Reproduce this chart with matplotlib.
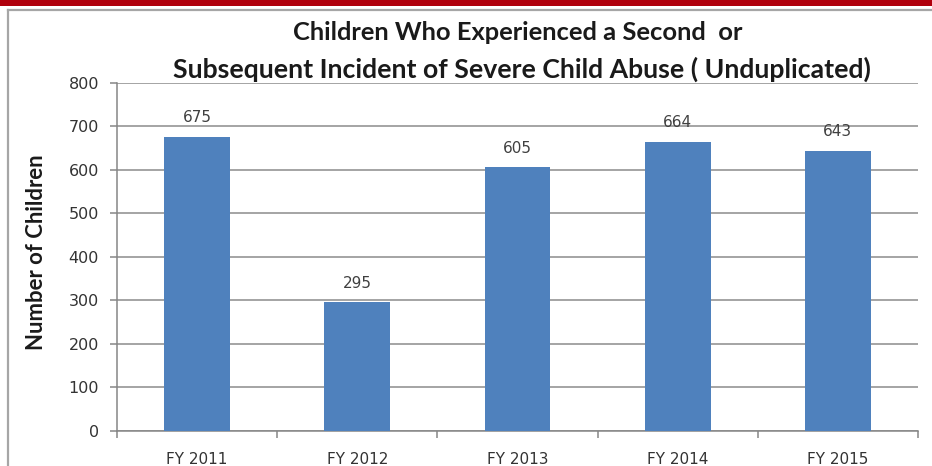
import numpy as np
import matplotlib
matplotlib.use("Agg")
import matplotlib.pyplot as plt
from matplotlib.patches import Rectangle
from matplotlib.lines import Line2D

# data
years = ['FY 2011', 'FY 2012', 'FY 2013', 'FY 2014', 'FY 2015']
children = [675, 295, 605, 664, 643]
yticks = [0, 100, 200, 300, 400, 500, 600, 700, 800]

W, H = 932, 466
fig = plt.figure(figsize=(W / 100, H / 100), dpi=100)
fig.patch.set_facecolor('white')
renderer = fig.canvas.get_renderer()


def fit_width(txt, target_px, horizontal=True):
    # shrink/grow a text so it spans about target_px pixels
    bb = txt.get_window_extent(renderer=renderer)
    cur = bb.width if horizontal else bb.height
    txt.set_fontsize(txt.get_fontsize() * target_px / cur)


# red strip at the very top + gray frame of the chart box
fig.patches.append(Rectangle((0, 1 - 6 / H), 1, 6 / H, transform=fig.transFigure,
                             facecolor='#b0000c', edgecolor='none'))
fig.lines.append(Line2D([8 / W, 1], [1 - 10 / H, 1 - 10 / H], transform=fig.transFigure,
                        color='#a6a6a6', lw=1.6))
fig.lines.append(Line2D([8 / W, 8 / W], [0, 1 - 10 / H], transform=fig.transFigure,
                        color='#a6a6a6', lw=1.6))

ax = fig.add_axes([117 / W, 35 / H, (918 - 117) / W, (431 - 82.5) / H])
x = np.arange(len(years))
ax.bar(x, children, width=0.41, color='#4f81bd', zorder=3)

for xi, v in zip(x, children):
    ax.text(xi, v + 44, str(v), ha='center', va='center', fontsize=11,
            color='#404040', family='DejaVu Sans')

ax.set_xlim(-0.5, len(years) - 0.5)
ax.set_ylim(0, 800)
ax.set_yticks(yticks)
ax.set_yticklabels([str(t) for t in yticks])
ax.grid(axis='y', color='#8c8c8c', lw=1.1, zorder=0)
ax.set_axisbelow(True)

# ticks between categories on x, labels centred under the bars
ax.set_xticks(np.arange(-0.5, len(years), 1.0))
ax.set_xticklabels([])
ax.set_xticks(x, minor=True)
ax.set_xticklabels(years, minor=True)
ax.tick_params(axis='x', which='major', length=5, color='#868686', width=1.1)
ax.tick_params(axis='x', which='minor', length=0, pad=15, labelsize=11, labelcolor='#333333')
ax.tick_params(axis='y', length=5, color='#868686', width=1.1, pad=8,
               labelsize=11.5, labelcolor='#333333')

for s in ['top', 'right']:
    ax.spines[s].set_visible(False)
for s in ['left', 'bottom']:
    ax.spines[s].set_color('#868686')
    ax.spines[s].set_linewidth(1.1)

lab_font = ['Lato', 'DejaVu Sans']
ylab = fig.text(37 / W, 1 - 252 / H, 'Number of Children', rotation=90, ha='center', va='center',
                fontsize=14, fontweight='bold', color='#1a1a1a', family=lab_font)
fit_width(ylab, 197, horizontal=False)

t1 = fig.text(518 / W, 1 - 33 / H, 'Children Who Experienced a Second  or', ha='center',
              va='center', fontsize=18, fontweight='bold', color='#1a1a1a', family=lab_font)
t2 = fig.text(522 / W, 1 - 69 / H, 'Subsequent Incident of Severe Child Abuse ( Unduplicated)',
              ha='center', va='center', fontsize=18, fontweight='bold', color='#1a1a1a',
              family=lab_font)
fit_width(t1, 450)
fit_width(t2, 699)

fig.savefig('out.png', dpi=100)
